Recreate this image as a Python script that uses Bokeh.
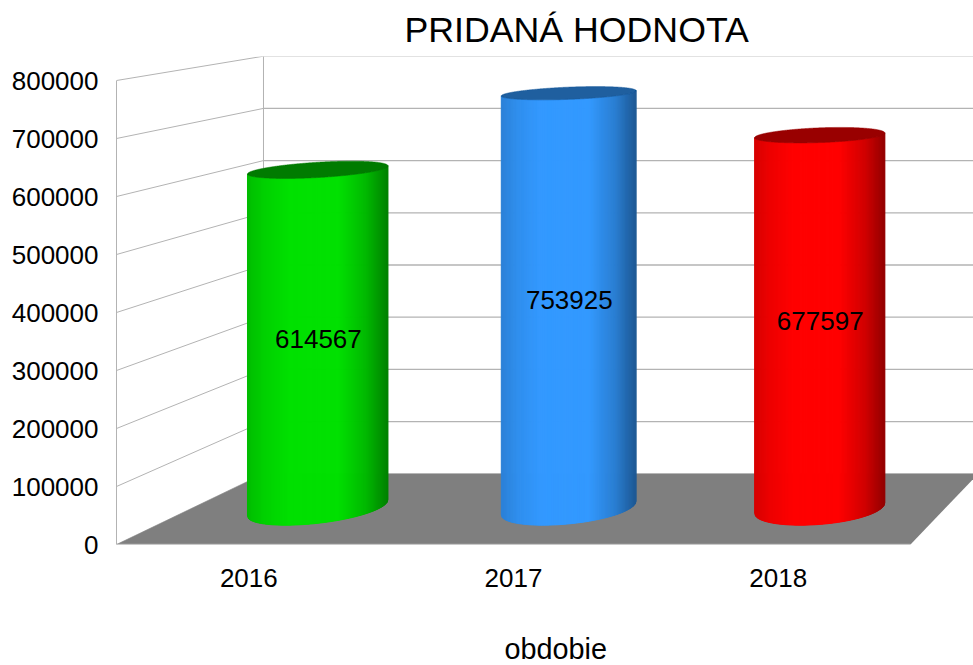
import numpy as np
from bokeh.plotting import figure
from bokeh.models import FixedTicker, Range1d, Title
from bokeh.core.properties import value
from bokeh.embed import file_html
from bokeh.resources import INLINE

TITLE = "PRIDANÁ HODNOTA"
X_TITLE = "obdobie"
categories = ["2016", "2017", "2018"]
values = [614567, 753925, 677597]
base_colors = [(0, 224, 0), (51, 153, 255), (255, 0, 0)]
top_colors = ["#007b00", "#1f5f9f", "#990000"]
y_ticks = [0, 100000, 200000, 300000, 400000, 500000, 600000, 700000, 800000]

FONT = "Liberation Sans"
GRID = "#b3b3b3"
FLOOR = "#7f7f7f"

# perspective of the 3D box, in data units of the front plane
VX, VY, BACK = 5.554, 1218966.0, 0.9
R = 0.247
MID = 0.52


def project(c, v, d):
    s = 1 - (1 - BACK) * np.asarray(d, dtype=float)
    return VX + (np.asarray(c, dtype=float) - VX) * s, VY + (np.asarray(v, dtype=float) - VY) * s


PX_X = 264.67
PX_Y = 58 / 100000
p = figure(
    width=973, height=665, frame_width=857, frame_height=488,
    x_range=Range1d(0, 857 / PX_X), y_range=Range1d(0, 488 / PX_Y),
    toolbar_location=None, output_backend="svg",
    min_border_left=116, min_border_right=0, min_border_top=56, min_border_bottom=121,
    outline_line_color=None, background_fill_color="white",
)
p.grid.visible = False

p.title.text = TITLE
p.title.text_font = FONT
p.title.text_font_size = "35.7px"
p.title.text_font_style = "normal"
p.title.text_color = "black"
p.title.align = "left"
p.title.offset = 288
p.title.standoff = 13

ya = p.yaxis[0]
ya.ticker = FixedTicker(ticks=y_ticks)
ya.bounds = (0, 800000)
ya.formatter.use_scientific = False
ya.major_tick_line_color = None
ya.minor_tick_line_color = None
ya.axis_line_color = GRID
ya.major_label_standoff = 12
ya.major_label_text_font = FONT
ya.major_label_text_font_size = "26px"
ya.major_label_text_color = "black"

xa = p.xaxis[0]
xa.ticker = FixedTicker(ticks=[i + 0.5 for i in range(len(categories))])
xa.major_label_overrides = {i + 0.5: c for i, c in enumerate(categories)}
xa.major_tick_line_color = None
xa.minor_tick_line_color = None
xa.axis_line_color = None
xa.major_label_standoff = 18
xa.major_label_text_font = FONT
xa.major_label_text_font_size = "26px"
xa.major_label_text_color = "black"

p.add_layout(Title(
    text=X_TITLE, align="left", offset=388, standoff=83,
    text_font=FONT, text_font_size="28.8px", text_font_style="normal", text_color="black",
), "below")

n = len(categories)
top = max(y_ticks)

# walls
for v in y_ticks:
    xs, ys = project([0, 0], [v, v], [0, 1])
    p.line(xs, ys, line_color=GRID, line_width=1)
    xs, ys = project([0, n], [v, v], [1, 1])
    p.line(xs, ys, line_color=GRID, line_width=1.3 if v else 1)
xs, ys = project([0, 0], [0, top], [1, 1])
p.line(xs, ys, line_color=GRID, line_width=1)

# floor
xs, ys = project([0, n, n, 0], [0, 0, 0, 0], [0, 0, 1, 1])
p.patch(xs, ys, fill_color=FLOOR, line_color=None)
xs, ys = project([0, n], [0, 0], [0, 0])
p.line(xs, ys, line_color=GRID, line_width=1.5)


def shade(rgb, u):
    stops_u = [0.0, 0.12, 0.3, 0.65, 0.85, 1.0]
    stops_k = [0.84, 0.93, 1.0, 1.0, 0.82, 0.58]
    k = float(np.interp(u, stops_u, stops_k))
    return "#%02x%02x%02x" % tuple(int(round(ch * k)) for ch in rgb)


ring = np.linspace(0, 2 * np.pi, 721)
for i, (val, rgb, tc) in enumerate(zip(values, base_colors, top_colors)):
    c = i + 0.5
    cc = c + R * np.cos(ring)
    dd = MID + R * np.sin(ring)
    bx, _ = project(cc, np.zeros_like(cc), dd)
    t_left = ring[np.argmin(bx)]
    t_right = ring[np.argmax(bx)]
    if t_right < t_left:
        t_right += 2 * np.pi
    # slices uniform in screen x, for an even gradient
    ts_dense = np.linspace(t_left, t_right, 2000)
    bx_dense, _ = project(c + R * np.cos(ts_dense), np.zeros_like(ts_dense), MID + R * np.sin(ts_dense))
    xmin, xmax = bx_dense.min(), bx_dense.max()
    ts = np.interp(np.linspace(xmin, xmax, 141), bx_dense, ts_dense)
    c_t = c + R * np.cos(ts)
    d_t = MID + R * np.sin(ts)
    x0, y0 = project(c_t, np.zeros_like(ts), d_t)
    x1, y1 = project(c_t, np.full_like(ts, val, dtype=float), d_t)
    px_list, py_list, cols = [], [], []
    for k in range(len(ts) - 1):
        px_list.append([x0[k], x0[k + 1], x1[k + 1], x1[k]])
        py_list.append([y0[k], y0[k + 1], y1[k + 1], y1[k]])
        cols.append(shade(rgb, ((x0[k] + x0[k + 1]) / 2 - xmin) / (xmax - xmin)))
    p.patches(px_list, py_list, fill_color=cols, line_color=cols, line_width=1)
    tx, ty = project(cc, np.full_like(cc, val, dtype=float), dd)
    p.patch(tx, ty, fill_color=tc, line_color=tc, line_width=0.5)
    lx, ly = project(c, val / 2, MID)
    p.text([float(lx)], [float(ly)], text=[str(val)], text_font=value(FONT), text_font_size="26px",
           text_align="center", text_baseline="middle", text_color="black")

open("out.html", "w").write(file_html(p, INLINE))
